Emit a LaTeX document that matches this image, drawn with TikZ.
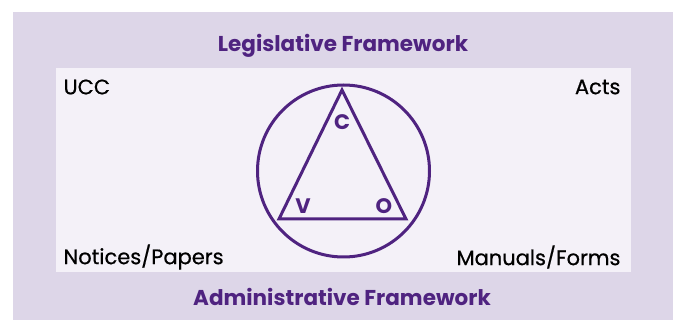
\documentclass[tikz,border=0pt]{standalone}
\usepackage{fontspec}
\setmainfont{Poppins}
\newfontfamily\lblfont[FakeBold=0.6]{Poppins}
\definecolor{purp}{HTML}{4F2380}
\definecolor{lav}{HTML}{DDD6E8}
\definecolor{inner}{HTML}{F4F1F8}
\begin{document}
\begin{tikzpicture}[x=1pt,y=-1pt,
  head/.style={text=purp,font=\fontsize{21.5}{24}\selectfont\bfseries},
  lbl/.style={text=black,font=\lblfont\fontsize{21}{24}\selectfont},
  vert/.style={text=purp,font=\fontsize{21}{24}\selectfont\bfseries},
  ln/.style={draw=purp,line width=3pt}]
\useasboundingbox (0,0) rectangle (673,320);
\fill[white] (0,0) rectangle (673,320);
\fill[lav] (13,12) rectangle (673,320);
\fill[inner] (56,68) rectangle (631,272);
\node[head] (leg) at (343,46) {Legislative Framework};
\node[head] (adm) at (342,297) {Administrative Framework};
\node[lbl,anchor=west] (ucc) at (60,87) {UCC};
\node[lbl,anchor=east] (acts) at (624,87) {Acts};
\node[lbl,anchor=west] (np) at (60,257) {Notices/Papers};
\node[lbl,anchor=east] (mf) at (624,257) {Manuals/Forms};
\node[ln,circle,minimum size=172pt,inner sep=0pt] (circ) at (343.5,171) {};
\coordinate (a) at (342,90);
\coordinate (b) at (279,219);
\coordinate (c) at (406,219);
\draw[ln,line join=miter] (a) -- (b) -- (c) -- cycle;
\node[vert] (C) at (342,122) {C};
\node[vert] (V) at (303,206) {V};
\node[vert] (O) at (384,206) {O};
\end{tikzpicture}
\end{document}
